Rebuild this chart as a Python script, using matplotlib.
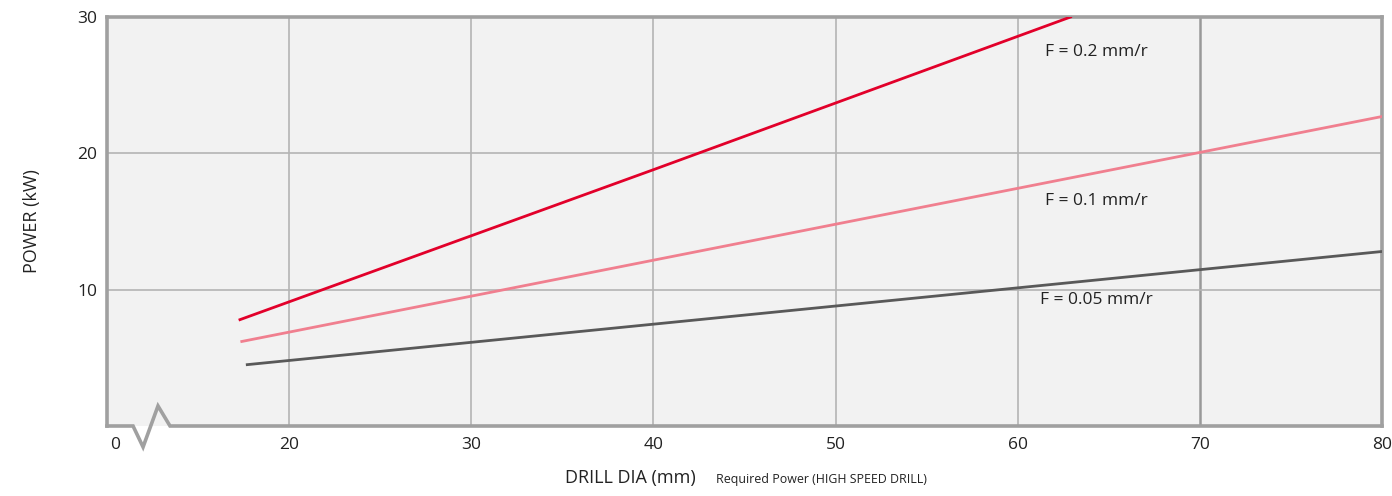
import matplotlib
matplotlib.use("Agg")
import matplotlib.pyplot as plt
from matplotlib.lines import Line2D
from matplotlib import font_manager

plt.rcParams['font.family'] = ['Open Sans', 'DejaVu Sans']

# Data
dia_02 = [17.3, 40.0, 62.9]
pow_02 = [7.8, 18.8, 30.0]
dia_01 = [17.4, 50.0, 80.0]
pow_01 = [6.2, 14.8, 22.7]
dia_005 = [17.7, 50.0, 80.0]
pow_005 = [4.5, 8.8, 12.8]
labels = ["F = 0.2 mm/r", "F = 0.1 mm/r", "F = 0.05 mm/r"]
xticks = [10.45, 20, 30, 40, 50, 60, 70, 80]
xticklabels = ["0", "20", "30", "40", "50", "60", "70", "80"]
yticks = [10, 20, 30]

fig = plt.figure(figsize=(13.92, 4.96), dpi=100)
ax = fig.add_axes([107/1392, 1 - 426/496, (1382-107)/1392, (426-17)/496])
ax.set_facecolor('#f2f2f2')
ax.set_xlim(10, 80)
ax.set_ylim(0, 30)

frame = '#a0a0a0'
for s in ['left', 'top', 'right']:
    ax.spines[s].set_color(frame)
    ax.spines[s].set_linewidth(2.6)
ax.spines['bottom'].set_visible(False)

# grid
for x in [20, 30, 40, 50, 60]:
    ax.axvline(x, color='#b4b4b4', lw=1.2, zorder=1)
ax.axvline(70, color='#999999', lw=1.8, zorder=1)
for y in [10, 20]:
    ax.axhline(y, color='#b4b4b4', lw=1.2, zorder=1)

# bottom spine with break symbol
bx = [10, 11.43, 11.98, 12.8, 13.46, 80]
by = [0, 0, -1.54, 1.47, 0, 0]
ax.add_line(Line2D(bx, by, color=frame, lw=2.6, clip_on=False, zorder=5,
                   solid_joinstyle='miter'))

# series
ax.plot(dia_02, pow_02, color='#e2002a', lw=2.0, zorder=3)
ax.plot(dia_01, pow_01, color='#f07f8f', lw=2.0, zorder=3)
ax.plot(dia_005, pow_005, color='#595959', lw=2.0, zorder=3)

tc = '#222222'
ax.text(61.5, 27.4, labels[0], fontsize=12.5, color=tc, va='center', ha='left')
ax.text(61.5, 16.5, labels[1], fontsize=12.5, color=tc, va='center', ha='left')
ax.text(61.2, 9.25, labels[2], fontsize=12.5, color=tc, va='center', ha='left')

ax.set_xticks(xticks)
ax.set_xticklabels(xticklabels)
ax.set_yticks(yticks)
ax.tick_params(length=0, labelsize=12.5, labelcolor=tc, pad=8)
ax.tick_params(axis='y', pad=7)

ax.set_ylabel("POWER (kW)", fontsize=13, color=tc, labelpad=26)

fig.text(630/1392, 1 - 478/496, "DRILL DIA (mm)", fontsize=13, color=tc,
         ha='center', va='center')

names = {f.name for f in font_manager.fontManager.ttflist}
if 'Liberation Sans Narrow' in names:
    fam, fs = ['Liberation Sans Narrow', 'DejaVu Sans'], 10.5
else:
    fam, fs = ['Open Sans', 'DejaVu Sans'], 8.9
fig.text(716/1392, 1 - 480/496, "Required Power (HIGH SPEED DRILL)", fontsize=fs,
         color=tc, ha='left', va='center', family=fam)

fig.savefig('out.png', dpi=100)
